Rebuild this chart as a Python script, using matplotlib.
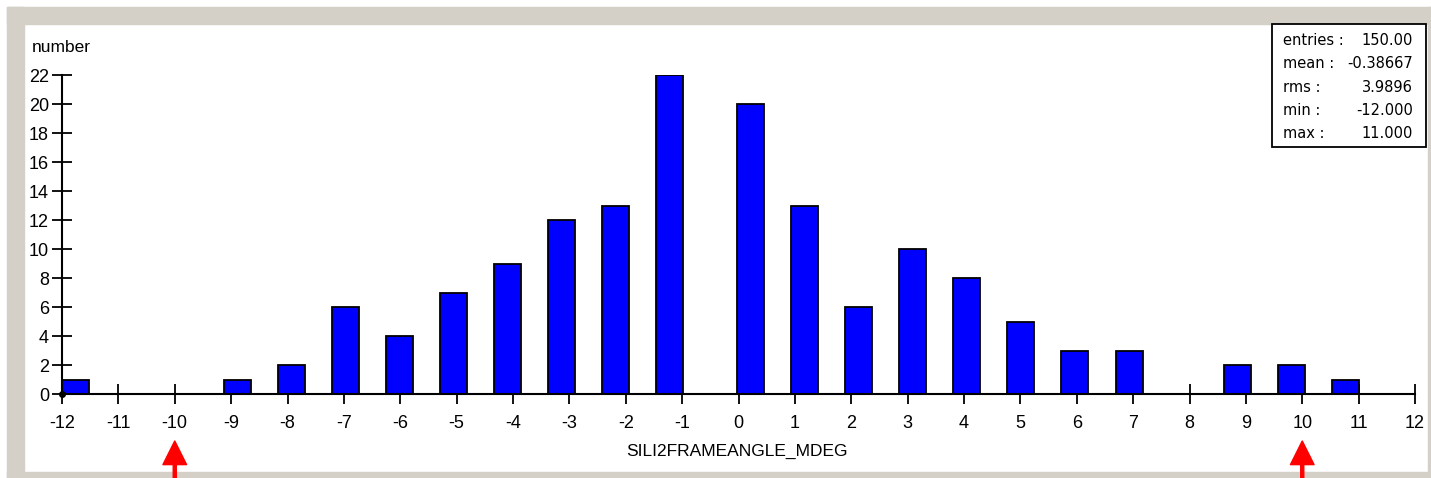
import numpy as np
import matplotlib
matplotlib.use("Agg")
import matplotlib.pyplot as plt
from matplotlib.patches import Rectangle

# histogram content
values = list(range(-12, 12))
counts = [1, 0, 0, 1, 2, 6, 4, 7, 9, 12, 13, 22,
          20, 13, 6, 10, 8, 5, 3, 3, 0, 2, 2, 1]
stat_names = ["entries :", "mean :", "rms :", "min :", "max :"]
stat_values = ["150.00", "-0.38667", "3.9896", "-12.000", "11.000"]
xticks = list(range(-12, 13))
yticks = list(range(0, 23, 2))
marked = [-10, 10]

W, H = 1431, 478
plt.rcParams['font.family'] = ['Liberation Sans', 'DejaVu Sans']
plt.rcParams['axes.unicode_minus'] = False
fig = plt.figure(figsize=(W / 100, H / 100), dpi=100)
fig.patch.set_facecolor('white')

# grey window frame
grey = '#d4d0c8'
for x0, y0, w, h in [(7, 7, W - 7, 17), (7, 7, 17, H - 7),
                     (1428, 7, 3, H - 7), (7, 472, W - 7, 6)]:
    fig.patches.append(Rectangle((x0 / W, 1 - (y0 + h) / H), w / W, h / H,
                                 transform=fig.transFigure, color=grey, zorder=-1))

ax = fig.add_axes([62 / W, (H - 394.3) / H, 1353 / W, 319.3 / H])
ax.set_facecolor('none')

# bin layout: 24 bins spanning min..max, bars half a bin wide
edges = np.linspace(min(values), max(values), len(values) + 1)
binw = edges[1] - edges[0]
lefts = []
for k, v in enumerate(values):
    if v < 0:
        lefts.append(edges[k])
    else:
        lefts.append((edges[k] + edges[k + 1]) / 2)
ax.bar(lefts, counts, width=binw / 2, align='edge', color='#0000ff',
       edgecolor='black', linewidth=1.3, zorder=2)
ax.plot([-12], [0], 'ko', ms=4, zorder=4, clip_on=False)

ax.set_xlim(-12, 12)
ax.set_ylim(0, 22)
ax.set_xticks(xticks)
ax.set_yticks(yticks)
for s in ['top', 'right']:
    ax.spines[s].set_visible(False)
for s in ['left', 'bottom']:
    ax.spines[s].set_linewidth(1.5)
    ax.spines[s].set_zorder(3)
ax.tick_params(axis='x', direction='inout', length=13.7, width=1.3, pad=8,
               labelsize=13)
ax.tick_params(axis='y', direction='inout', length=13.7, width=1.3, pad=2.5,
               labelsize=13)

fig.text(32 / W, 1 - 47 / H, 'number', fontsize=12.5, ha='left', va='center')
fig.text(736.7 / W, 1 - 451.7 / H, 'SILI2FRAMEANGLE_MDEG', fontsize=12.5,
         ha='center', va='center')

# statistics box
fig.patches.append(Rectangle((1271.5 / W, 1 - 147 / H), (1426 - 1271.5) / W,
                             (147 - 24) / H, transform=fig.transFigure,
                             facecolor='white', edgecolor='black', linewidth=1.3,
                             zorder=5))
for i, (n, v) in enumerate(zip(stat_names, stat_values)):
    y = 1 - (40.7 + i * 23.2) / H
    fig.text(1283.3 / W, y, n, fontsize=10.5, family='DejaVu Sans',
             ha='left', va='center', zorder=6)
    fig.text(1412.7 / W, y, v, fontsize=10.5, family='DejaVu Sans',
             ha='right', va='center', zorder=6)

# red markers under the axis
for m in marked:
    ax.annotate('', xy=(m, 478 - 441), xycoords=('data', 'figure pixels'),
                xytext=(m, -10), textcoords=('data', 'figure pixels'),
                arrowprops=dict(width=2.2, headwidth=17, headlength=17,
                                color='red', shrink=0),
                annotation_clip=False)

fig.savefig('out.png', dpi=100)
